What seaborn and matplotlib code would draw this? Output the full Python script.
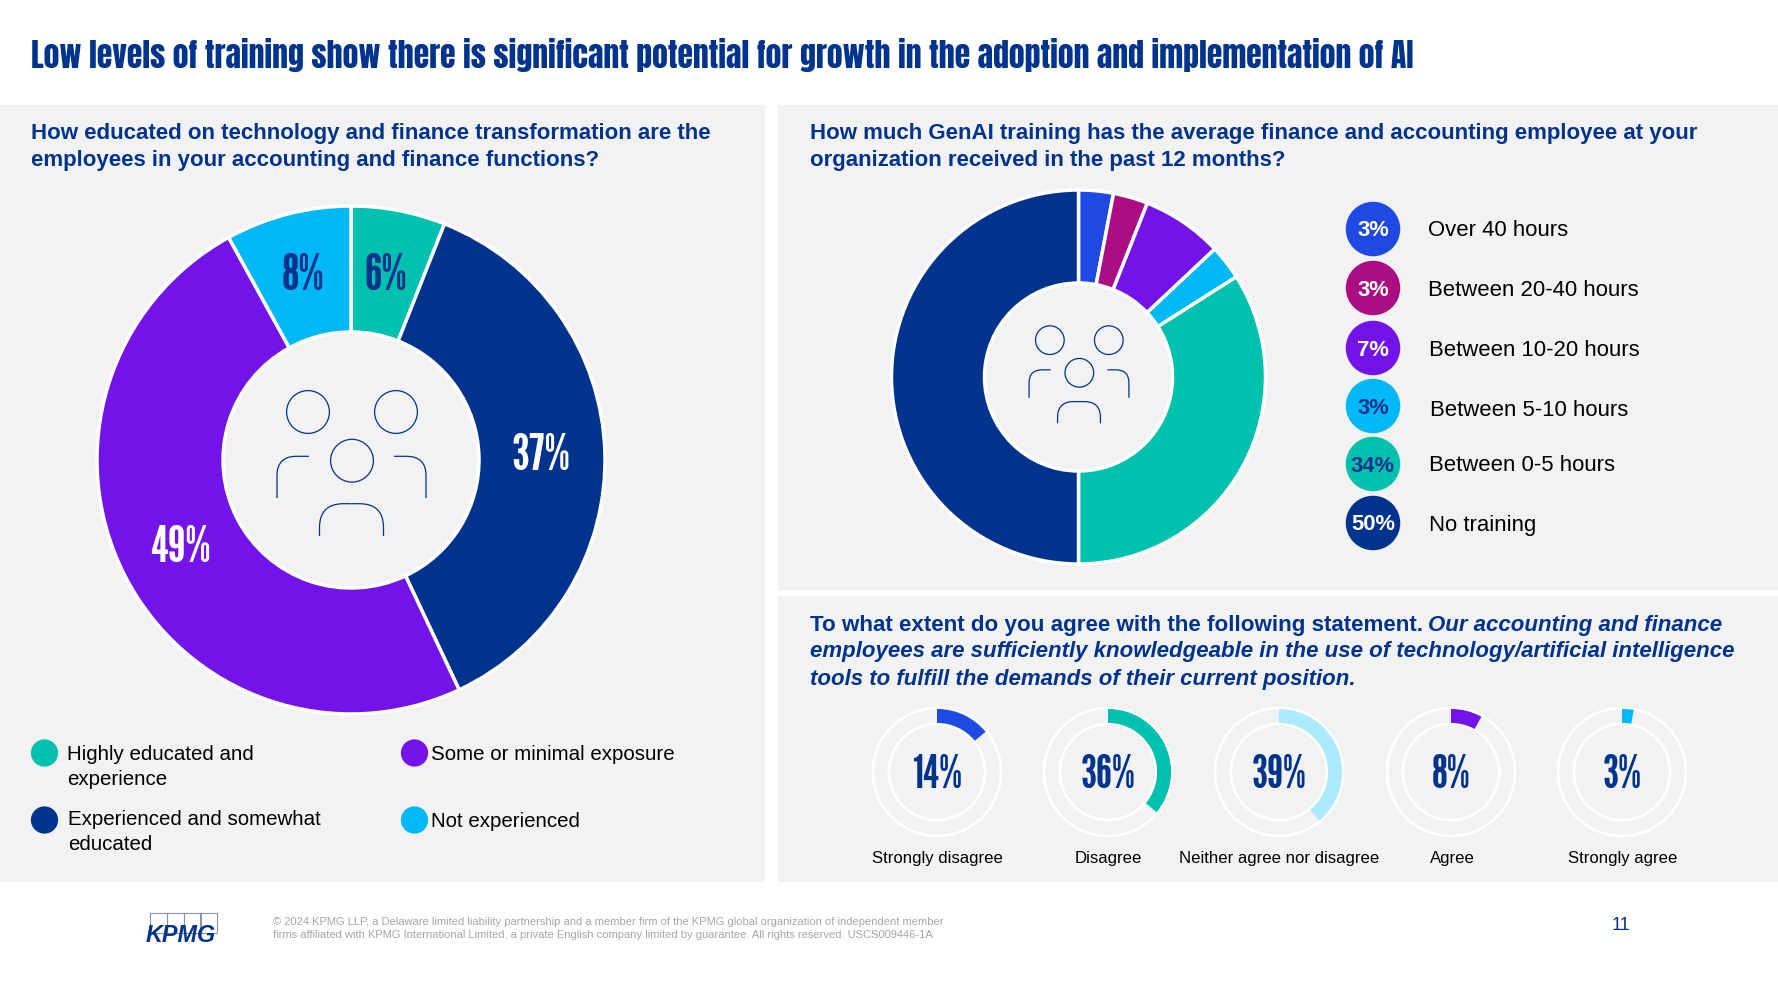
import matplotlib
matplotlib.use("Agg")
import matplotlib.pyplot as plt
from matplotlib.patches import Rectangle, Circle, PathPatch
from matplotlib.path import Path
import pandas as pd
import seaborn as sns

W, H = 1778, 1000
NAVY, PURPLE, CYAN, TEAL = "#00338D", "#7213EA", "#00B8F5", "#00C0AE"
BLUE, MAGENTA, PALE = "#1E49E2", "#AB0D82", "#ACEAFF"
PANEL = "#F2F2F2"
BODY = "Liberation Sans"
HEAVY = ["Anton", "League Gothic", "Liberation Sans"]
NARROW = ["League Gothic", "Liberation Sans"]

TITLE = "Low levels of training show there is significant potential for growth in the adoption and implementation of AI"

education_labels = ["Highly educated and\nexperience", "Experienced and somewhat\neducated",
                    "Some or minimal exposure", "Not experienced"]
education_values = [6, 37, 49, 8]
education_colors = [TEAL, NAVY, PURPLE, CYAN]

training_labels = ["Over 40 hours", "Between 20-40 hours", "Between 10-20 hours",
                   "Between 5-10 hours", "Between 0-5 hours", "No training"]
training_values = [3, 3, 7, 3, 34, 50]
training_colors = [BLUE, MAGENTA, PURPLE, CYAN, TEAL, NAVY]
training_text_colors = ["white", "white", "white", NAVY, NAVY, "white"]

agreement_labels = ["Strongly disagree", "Disagree", "Neither agree nor disagree", "Agree", "Strongly agree"]
agreement_values = [14, 36, 39, 8, 3]
agreement_colors = [BLUE, TEAL, PALE, PURPLE, CYAN]

sns.set_theme(style="white")
plt.rcParams["font.family"] = [BODY, "DejaVu Sans"]
fig = plt.figure(figsize=(W / 100, H / 100), dpi=100, facecolor="white")


def pixel_axes(z):
    ax = fig.add_axes([0, 0, 1, 1], zorder=z)
    ax.set_xlim(0, W)
    ax.set_ylim(H, 0)
    ax.axis("off")
    ax.patch.set_alpha(0)
    return ax


back = pixel_axes(0)
front = pixel_axes(5)
for x0, y0, x1, y1 in [(0, 105, 765, 882), (778, 105, 1778, 590), (778, 596, 1778, 882)]:
    back.add_patch(Rectangle((x0, y0), x1 - x0, y1 - y0, fc=PANEL, ec="none"))


def put(x, y, s, px, width=None, **kw):
    kw.setdefault("color", "black")
    kw.setdefault("va", "center")
    t = front.text(x, y + 2, s, fontsize=px * 0.72, **kw)
    if width:
        r = fig.canvas.get_renderer()
        t.set_fontsize(t.get_fontsize() * width / t.get_window_extent(r).width)
    return t


def circle_axes(cx, cy, r, z=2):
    ax = fig.add_axes([(cx - r) / W, 1 - (cy + r) / H, 2 * r / W, 2 * r / H], zorder=z)
    ax.set_aspect("equal")
    ax.patch.set_alpha(0)
    return ax


def donut(cx, cy, r, inner, values, colors):
    ax = circle_axes(cx, cy, r)
    ax.pie(values, colors=colors, startangle=90, counterclock=False, radius=1,
           wedgeprops=dict(width=1 - inner / r, edgecolor="white", linewidth=2.5))
    ax.set_xlim(-1, 1)
    ax.set_ylim(-1, 1)


def stroke(points, lw):
    # a single open outline: straight run, rounded corner, straight run
    codes = [Path.MOVETO, Path.LINETO, Path.CURVE3, Path.CURVE3, Path.LINETO]
    front.add_patch(PathPatch(Path(points, codes), fill=False, ec=NAVY, lw=lw, capstyle="butt"))


def people_icon(cx, cy, k):
    lw = 0.9
    for dx, dy in [(-43.5, -47.5), (44.5, -47.5), (0.5, 1.2)]:
        front.add_patch(Circle((cx + dx * k, cy + dy * k), 21.4 * k, fill=False, ec=NAVY, lw=lw))

    def pt(dx, dy):
        return (cx + dx * k, cy + dy * k)

    for sx in (-1, 1):
        stroke([pt(sx * 74.5, 38.5), pt(sx * 74.5, 16), pt(sx * 74.5, -3.2),
                pt(sx * 55, -3.2), pt(sx * 42.5, -3.2)], lw)
    # front figure, one half at a time, meeting at the top
    for sx in (-1, 1):
        stroke([pt(sx * 32, 76.5), pt(sx * 32, 68), pt(sx * 32, 44.2),
                pt(sx * 8, 44.2), pt(0, 44.2)], lw)


# Heading and panel questions
put(31, 53, TITLE, 42, width=1384, color=NAVY, family=HEAVY)
head = dict(color=NAVY, weight="bold")
put(31, 131, "How educated on technology and finance transformation are the", 23.5, width=683, **head)
put(31, 158.5, "employees in your accounting and finance functions?", 23.5, width=571, **head)
put(810, 131, "How much GenAI training has the average finance and accounting employee at your", 23.5, width=893, **head)
put(810, 158.5, "organization received in the past 12 months?", 23.5, width=478, **head)
put(810, 624, "To what extent do you agree with the following statement.", 23.5, width=612, **head)
put(1428, 624, "Our accounting and finance", 23.5, width=295, style="italic", **head)
put(810, 650, "employees are sufficiently knowledgeable in the use of technology/artificial intelligence", 23.5,
    width=926, style="italic", **head)
put(810, 677, "tools to fulfill the demands of their current position.", 23.5, width=547, style="italic", **head)

# Education donut
donut(351, 460, 254, 128, education_values, education_colors)
people_icon(351.5, 459.5, 1.0)
for (x, y), v, c in zip([(385.5, 274), (541, 454), (180, 546), (303, 274)], education_values,
                        [NAVY, "white", "white", NAVY]):
    put(x, y, f"{v}%", 51, color=c, family=NARROW, ha="center")

legend_frame = pd.DataFrame({"x": [44.5, 44.5, 414.5, 414.5], "y": [753, 820, 753, 820], "label": education_labels})
sns.scatterplot(data=legend_frame, x="x", y="y", hue="label", palette=education_colors, s=385,
                linewidth=0, legend=False, ax=front, clip_on=False)
for x, y, s in [(67, 753, "Highly educated and"), (67, 777.5, "experience"),
                (68, 817.5, "Experienced and somewhat"), (68, 842, "educated"),
                (431, 753, education_labels[2]), (431, 819.5, education_labels[3])]:
    put(x, y, s, 20.5)

# Training donut
donut(1078.5, 377, 187, 94, training_values, training_colors)
people_icon(1079, 372, 0.67)
circle_y = [229, 288, 348, 406, 464, 523]
label_y = [228, 288, 349, 408, 463.5, 523]
label_x = [1428, 1428, 1429, 1430, 1429, 1429]
training_frame = pd.DataFrame({"x": [1373] * 6, "y": circle_y, "label": training_labels})
sns.scatterplot(data=training_frame, x="x", y="y", hue="label", palette=training_colors, s=1540,
                linewidth=0, legend=False, ax=front, clip_on=False)
for x, ly, cy, s, v, tc in zip(label_x, label_y, circle_y, training_labels, training_values, training_text_colors):
    put(x, ly, s, 22.2)
    put(1373, cy, f"{v}%", 22, color=tc, weight="bold", ha="center")

# Agreement rings
ring_x = [937, 1108, 1279, 1451, 1622]
caption_x = [937, 1108, 1279, 1452, 1623]
for cx, tx, label, v, c in zip(ring_x, caption_x, agreement_labels, agreement_values, agreement_colors):
    ax = circle_axes(cx, 772, 65)
    ax.add_patch(Circle((0, 0), 0.985, fill=False, ec="white", lw=2))
    ax.add_patch(Circle((0, 0), 0.74, fill=False, ec="white", lw=2))
    ax.pie([v, 100 - v], colors=[c, "none"], startangle=90, counterclock=False, radius=0.97,
           wedgeprops=dict(width=0.215, linewidth=0))
    ax.set_xlim(-1, 1)
    ax.set_ylim(-1, 1)
    put(cx, 773, f"{v}%", 46, color=NAVY, family=NARROW, ha="center")
    put(tx, 856, label, 16.8, ha="center")

# Footer
for bx in (150, 167, 184, 200):
    front.add_patch(Rectangle((bx, 913), 17, 20, fill=False, ec="#8a94a8", lw=0.8))
put(146, 933, "KPMG", 22, width=70, color=NAVY, weight="bold", style="italic")
put(273, 920, "© 2024 KPMG LLP, a Delaware limited liability partnership and a member firm of the KPMG global organization of independent member",
    11, width=670, color="#a6a6a6")
put(273, 933, "firms affiliated with KPMG International Limited, a private English company limited by guarantee. All rights reserved. USCS009446-1A",
    11, width=660, color="#a6a6a6")
put(1621, 924, "11", 18, color=NAVY, ha="center")

front.set_xlim(0, W)
front.set_ylim(H, 0)
front.axis("off")
fig.savefig("out.png", dpi=100, facecolor="white")
